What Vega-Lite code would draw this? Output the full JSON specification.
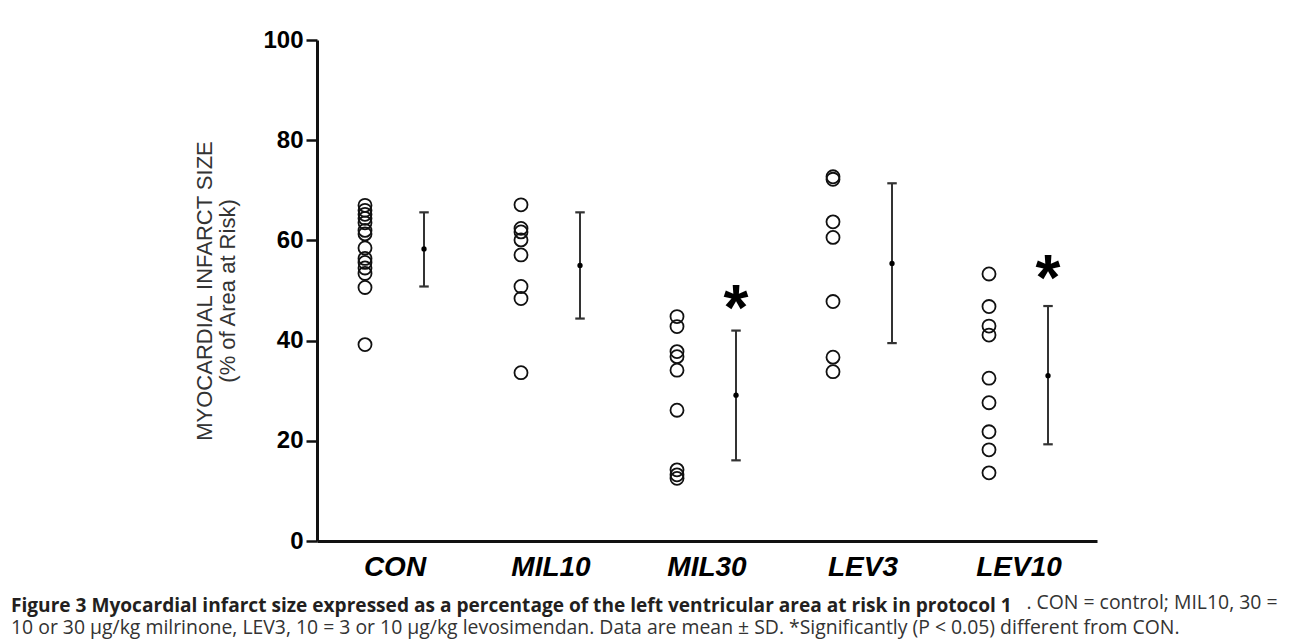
{
  "$schema": "https://vega.github.io/schema/vega-lite/v6.json",
  "width": 786,
  "height": 501,
  "autosize": {"type": "none"},
  "padding": {"left": 317, "top": 40, "right": 189, "bottom": 103},
  "background": "white",
  "config": {"view": {"stroke": null}, "font": "Liberation Sans"},
  "datasets": {
    "points": [
      {"group": "CON", "value": 67.0}, {"group": "CON", "value": 66.0}, {"group": "CON", "value": 65.2},
      {"group": "CON", "value": 64.4}, {"group": "CON", "value": 63.5}, {"group": "CON", "value": 62.0},
      {"group": "CON", "value": 61.3}, {"group": "CON", "value": 58.5}, {"group": "CON", "value": 56.4},
      {"group": "CON", "value": 55.6}, {"group": "CON", "value": 54.5}, {"group": "CON", "value": 53.4},
      {"group": "CON", "value": 50.6}, {"group": "CON", "value": 39.2},
      {"group": "MIL10", "value": 67.1}, {"group": "MIL10", "value": 62.4}, {"group": "MIL10", "value": 61.7},
      {"group": "MIL10", "value": 60.1}, {"group": "MIL10", "value": 57.1}, {"group": "MIL10", "value": 50.8},
      {"group": "MIL10", "value": 48.4}, {"group": "MIL10", "value": 33.6},
      {"group": "MIL30", "value": 44.8}, {"group": "MIL30", "value": 42.8}, {"group": "MIL30", "value": 37.8},
      {"group": "MIL30", "value": 36.8}, {"group": "MIL30", "value": 34.1}, {"group": "MIL30", "value": 26.1},
      {"group": "MIL30", "value": 14.2}, {"group": "MIL30", "value": 13.2}, {"group": "MIL30", "value": 12.5},
      {"group": "LEV3", "value": 72.7}, {"group": "LEV3", "value": 72.2}, {"group": "LEV3", "value": 63.7},
      {"group": "LEV3", "value": 60.6}, {"group": "LEV3", "value": 47.8}, {"group": "LEV3", "value": 36.7},
      {"group": "LEV3", "value": 33.8},
      {"group": "LEV10", "value": 53.3}, {"group": "LEV10", "value": 46.8}, {"group": "LEV10", "value": 42.9},
      {"group": "LEV10", "value": 41.1}, {"group": "LEV10", "value": 32.5}, {"group": "LEV10", "value": 27.6},
      {"group": "LEV10", "value": 21.8}, {"group": "LEV10", "value": 18.2}, {"group": "LEV10", "value": 13.6}
    ],
    "stats": [
      {"group": "CON", "mean": 58.3, "lo": 50.8, "hi": 65.6},
      {"group": "MIL10", "mean": 55.0, "lo": 44.4, "hi": 65.6},
      {"group": "MIL30", "mean": 29.1, "lo": 16.1, "hi": 42.0},
      {"group": "LEV3", "mean": 55.4, "lo": 39.5, "hi": 71.4},
      {"group": "LEV10", "mean": 33.0, "lo": 19.3, "hi": 46.9}
    ],
    "sig": [
      {"group": "MIL30", "value": 49.4, "label": "*"},
      {"group": "LEV10", "value": 55.2, "label": "*"}
    ]
  },
  "title": {
    "text": "Figure 3 Myocardial infarct size expressed as a percentage of the left ventricular area at risk in protocol 1",
    "subtitle": "10 or 30 µg/kg milrinone, LEV3, 10 = 3 or 10 µg/kg levosimendan. Data are mean ± SD. *Significantly (P < 0.05) different from CON.",
    "orient": "bottom",
    "anchor": "start",
    "frame": "group",
    "dx": -306,
    "dy": -14,
    "offset": 0,
    "font": "Open Sans",
    "fontSize": 19.1,
    "fontWeight": "bold",
    "color": "#231f20",
    "subtitleFont": "Open Sans",
    "subtitleFontSize": 19.4,
    "subtitleFontWeight": "normal",
    "subtitleColor": "#333333",
    "subtitlePadding": 2
  },
  "layer": [
    {
      "data": {"name": "points"},
      "mark": {"type": "point", "shape": "circle", "filled": false, "size": 170, "stroke": "#111111", "strokeWidth": 1.8, "opacity": 1},
      "encoding": {
        "x": {
          "field": "group", "type": "nominal",
          "sort": ["CON", "MIL10", "MIL30", "LEV3", "LEV10"],
          "bandPosition": 0.3077,
          "scale": {"paddingInner": 0, "paddingOuter": 0, "range": [0, 780]},
          "title": ". CON = control; MIL10, 30 =",
          "axis": {
            "ticks": false,
            "domainWidth": 3,
            "domainColor": "#111111",
            "labelAngle": 0,
            "labelFont": "Liberation Sans",
            "labelFontSize": 28,
            "labelFontWeight": "bold",
            "labelFontStyle": "italic",
            "labelColor": "#000000",
            "labelPadding": 12,
            "titleFont": "Open Sans",
            "titleFontSize": 19.4,
            "titleFontWeight": "normal",
            "titleColor": "#333333",
            "titleAngle": 0,
            "titleAlign": "right",
            "titleBaseline": "alphabetic",
            "titleX": 960,
            "titleY": 67
          }
        },
        "y": {
          "field": "value", "type": "quantitative",
          "scale": {"domain": [0, 100], "nice": false},
          "title": ["MYOCARDIAL INFARCT SIZE", "(% of Area at Risk)"],
          "axis": {
            "values": [0, 20, 40, 60, 80, 100],
            "grid": false,
            "domainWidth": 3,
            "domainColor": "#111111",
            "tickWidth": 2.5,
            "tickSize": 11,
            "tickColor": "#111111",
            "labelFont": "Liberation Sans",
            "labelFontSize": 24,
            "labelFontWeight": "bold",
            "labelColor": "#000000",
            "labelPadding": 3,
            "titleFont": "Liberation Sans",
            "titleFontSize": 22,
            "titleFontWeight": "normal",
            "titleColor": "#333333",
            "titlePadding": 23,
            "titleLineHeight": 23
          }
        }
      }
    },
    {
      "data": {"name": "stats"},
      "mark": {"type": "rule", "stroke": "#333333", "strokeWidth": 2},
      "encoding": {
        "x": {"field": "group", "type": "nominal", "sort": ["CON", "MIL10", "MIL30", "LEV3", "LEV10"], "bandPosition": 0.686},
        "y": {"field": "lo", "type": "quantitative"},
        "y2": {"field": "hi"}
      }
    },
    {
      "data": {"name": "stats"},
      "mark": {"type": "point", "shape": "M -1 0 L 1 0", "filled": false, "size": 90, "stroke": "#333333", "strokeWidth": 2.2, "opacity": 1},
      "encoding": {
        "x": {"field": "group", "type": "nominal", "sort": ["CON", "MIL10", "MIL30", "LEV3", "LEV10"], "bandPosition": 0.686},
        "y": {"field": "lo", "type": "quantitative"}
      }
    },
    {
      "data": {"name": "stats"},
      "mark": {"type": "point", "shape": "M -1 0 L 1 0", "filled": false, "size": 90, "stroke": "#333333", "strokeWidth": 2.2, "opacity": 1},
      "encoding": {
        "x": {"field": "group", "type": "nominal", "sort": ["CON", "MIL10", "MIL30", "LEV3", "LEV10"], "bandPosition": 0.686},
        "y": {"field": "hi", "type": "quantitative"}
      }
    },
    {
      "data": {"name": "stats"},
      "mark": {"type": "circle", "size": 28, "color": "#000000", "opacity": 1},
      "encoding": {
        "x": {"field": "group", "type": "nominal", "sort": ["CON", "MIL10", "MIL30", "LEV3", "LEV10"], "bandPosition": 0.686},
        "y": {"field": "mean", "type": "quantitative"}
      }
    },
    {
      "data": {"name": "sig"},
      "mark": {"type": "text", "font": "Liberation Sans", "fontSize": 64, "fontWeight": "bold", "color": "#000000", "baseline": "alphabetic", "align": "center", "dy": 36},
      "encoding": {
        "x": {"field": "group", "type": "nominal", "sort": ["CON", "MIL10", "MIL30", "LEV3", "LEV10"], "bandPosition": 0.686},
        "y": {"field": "value", "type": "quantitative"},
        "text": {"field": "label"}
      }
    }
  ]
}
